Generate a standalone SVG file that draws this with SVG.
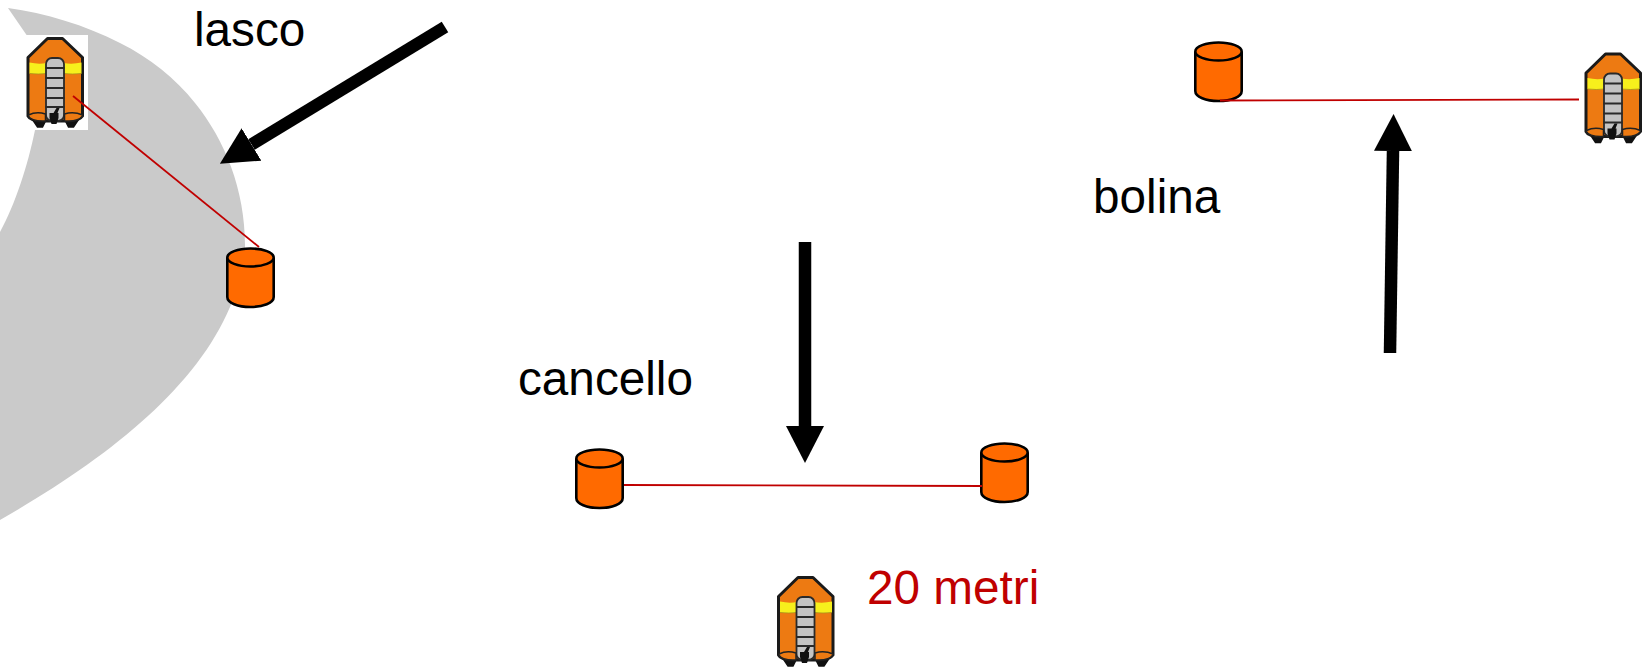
<svg xmlns="http://www.w3.org/2000/svg" xmlns:xlink="http://www.w3.org/1999/xlink" width="1642" height="667" viewBox="0 0 1642 667">
<style>
text{font-family:"Liberation Sans",Arial,sans-serif;font-size:47.7px;fill:#000}
.red{fill:#c00000}
.rope{stroke:#c00000;stroke-width:1.8;fill:none}
.wind{stroke:#000;stroke-width:12.5;fill:none;marker-end:url(#head)}
.c{fill:#ff6a00;stroke:#000;stroke-width:2.6}
</style>
<defs>
<marker id="head" markerUnits="userSpaceOnUse" markerWidth="38" markerHeight="40" refX="0" refY="20" orient="auto"><path d="M0 1L37 20L0 39Z" fill="#000"/></marker>
<symbol id="boat" width="58" height="90" viewBox="0 0 58 90" overflow="visible">
<path d="M7 84H19L16 90H11ZM39 84H51L47 90H42Z" fill="#111" stroke="#111" stroke-width="1.500"/>
<path d="M1.500 20.500L21 1.500H36L56 20.500V79C54 82 48 84 42 84H16C9 84 3 82 1.500 79Z" fill="#ed7a12" stroke="#1a1a1a" stroke-width="3" stroke-linejoin="round"/>
<path d="M3 25.500Q12 27.500 20 26V36.500Q12 37.500 3 36.500ZM55 25.500Q46 27.500 37 26V36.500Q46 37.500 55 36.500Z" fill="#f7f01c"/>
<path d="M3 36.500Q12 37.500 20 36.500M55 36.500Q46 37.500 37 36.500" stroke="#a8921a" stroke-width=".8" fill="none"/>
<rect x="19.500" y="21" width="18" height="63" rx="6" fill="#c4c4c4" stroke="#2a2a2a" stroke-width="1.800"/>
<path d="M19 31H38M19 41H38M19 51H38M19 61H38M19 70H38" stroke="#2a2a2a" stroke-width="1.800"/>
<path d="M2 78Q10 74 19 77V84H16C9 84 3 82 2 79ZM56 78Q47 74 38 77V84H42C48 84 54 82 56 79Z" fill="#ed7a12" stroke="#222" stroke-width="1.500"/>
<path d="M23 76H27L30 71H33L31 76H32V81L30 87H25L23 81Z" fill="#111"/>
</symbol>
<g id="can">
<path class="c" d="M1.300 11V50C1.300 56 12 60 24.500 60S47.700 56 47.700 50V11"/>
<ellipse class="c" cx="24.500" cy="10.500" rx="23.200" ry="9"/>
</g>
</defs>
<path id="sector" fill="#cacaca" d="M8 8C45 13 85 25 120 43C150 58 175 78 195 103C225 140 245 190 245 245C245 270 238 290 230 307C195 390 105 460 0 520V232C15 205 28 165 35 130L30 40Z"/>
<g id="boat-lasco"><rect x="25" y="35" width="63" height="95" fill="#fff"/><use xlink:href="#boat" href="#boat" x="26.500" y="37"/></g>
<g id="boat-bolina"><use xlink:href="#boat" href="#boat" x="1584.500" y="52.500"/></g>
<g id="boat-cancello"><use xlink:href="#boat" href="#boat" x="777" y="576"/></g>
<g id="buoy-lasco"><use xlink:href="#can" href="#can" x="226" y="247"/></g>
<g id="buoy-cancello-left"><use xlink:href="#can" href="#can" x="575" y="448"/></g>
<g id="buoy-cancello-right"><use xlink:href="#can" href="#can" x="980" y="442"/></g>
<g id="buoy-bolina"><use xlink:href="#can" href="#can" x="1194" y="41"/></g>
<g id="connectors">
<path class="rope" d="M73 96L259 247"/>
<path class="rope" d="M624 485L982 486"/>
<path class="rope" d="M1220 100.500L1579 99.500"/>
<path class="wind" d="M445 27L251.500 144.500"/>
<path class="wind" d="M805 242V426"/>
<path class="wind" d="M1390 353L1393 151"/>
</g>
<text x="194" y="46">lasco</text>
<text x="518" y="395">cancello</text>
<text x="1093" y="213">bolina</text>
<text class="red" x="867" y="604">20 metri</text>
</svg>
